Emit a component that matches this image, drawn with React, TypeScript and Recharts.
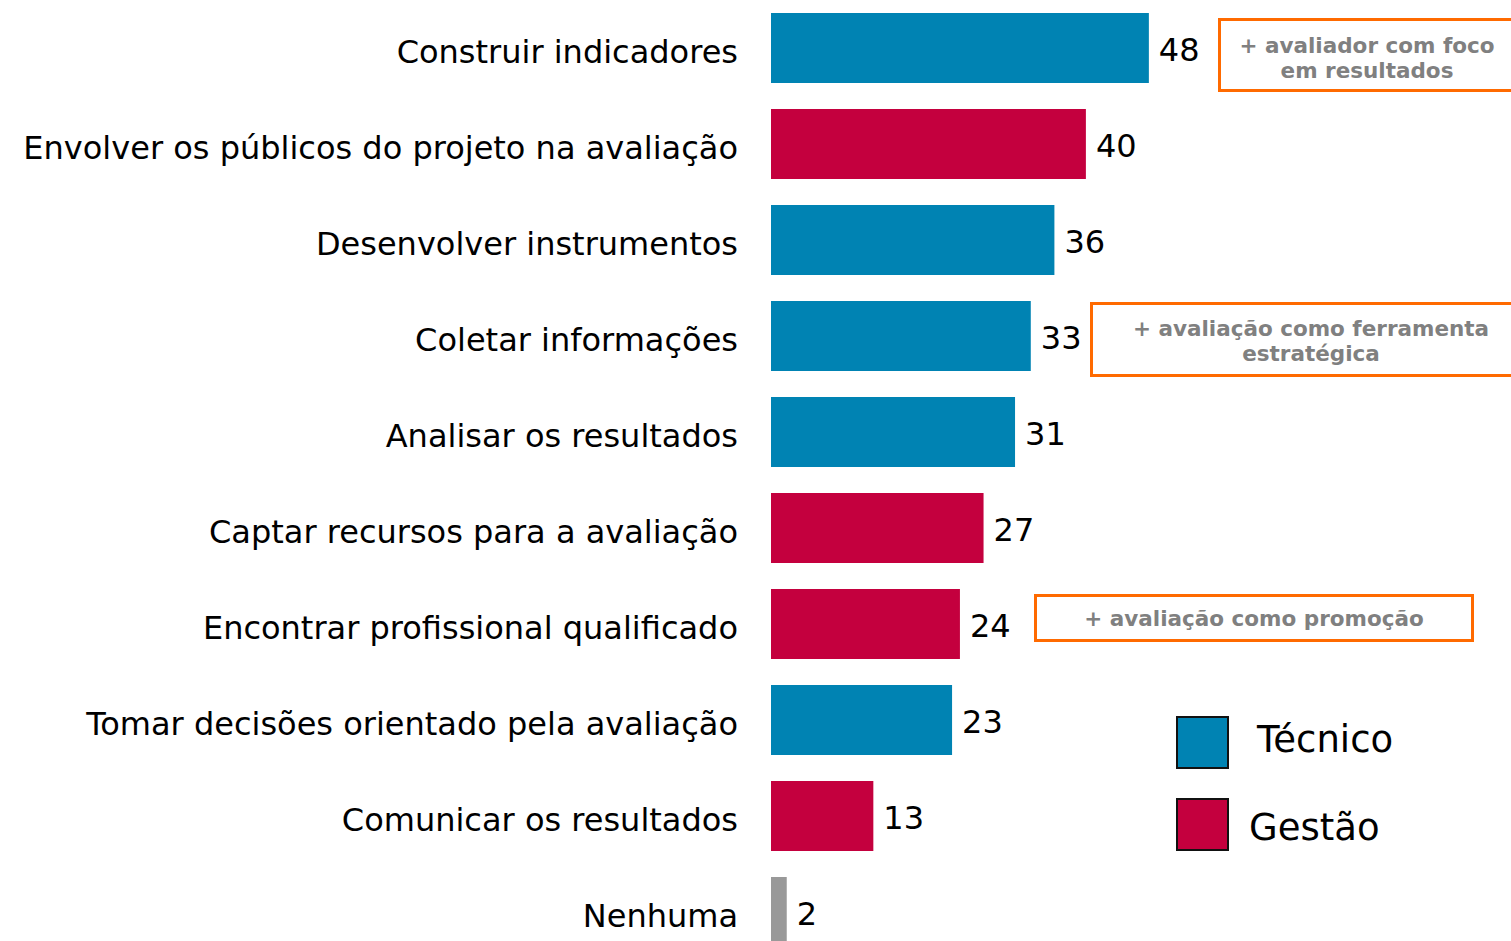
import React from 'react';
import { BarChart, Bar, XAxis, YAxis, Cell, LabelList } from 'recharts';

const categories = [
  'Construir indicadores',
  'Envolver os públicos do projeto na avaliação',
  'Desenvolver instrumentos',
  'Coletar informações',
  'Analisar os resultados',
  'Captar recursos para a avaliação',
  'Encontrar profissional qualificado',
  'Tomar decisões orientado pela avaliação',
  'Comunicar os resultados',
  'Nenhuma',
];
const values = [48, 40, 36, 33, 31, 27, 24, 23, 13, 2];
const groups = ['Técnico', 'Gestão', 'Técnico', 'Técnico', 'Técnico', 'Gestão', 'Gestão', 'Técnico', 'Gestão', 'Nenhuma'];
const legendItems = ['Técnico', 'Gestão'];
const notes = [
  ['+ avaliador com foco', 'em resultados'],
  ['+ avaliação como ferramenta', 'estratégica'],
  ['+ avaliação como promoção'],
];

const colorOf: Record<string, string> = {
  'Técnico': '#0083B3',
  'Gestão': '#C4003E',
  'Nenhuma': '#999999',
};

const data = categories.map((c, i) => ({ name: c, value: values[i], group: groups[i] }));

const FONT = '"DejaVu Sans", Verdana, sans-serif';

const Tick = (props: any) => {
  const { y, payload } = props;
  return (
    <text x={738} y={y + 4} textAnchor="end" dominantBaseline="central" fontFamily={FONT} fontSize={32} fill="#000">
      {payload.value}
    </text>
  );
};

const ValueLabel = (props: any) => {
  const { x, y, width, height, value } = props;
  return (
    <text x={x + width + 10} y={y + height / 2 + 2} dominantBaseline="central" fontFamily={FONT} fontSize={32} fill="#000">
      {value}
    </text>
  );
};

const noteBoxes = [
  { left: 1218, top: 18, width: 298, height: 74, pad: 5 },
  { left: 1090, top: 302, width: 442, height: 75, pad: 3 },
  { left: 1034, top: 594, width: 440, height: 48, pad: 1 },
];

export default function App() {
  return (
    <div style={{ position: 'absolute', left: 0, top: 0, width: 1511, height: 941, overflow: 'hidden', background: '#fff' }}>
      <BarChart width={1511} height={960} data={data} layout="vertical" margin={{ top: 0, right: 0, bottom: 0, left: 0 }}>
        <XAxis type="number" domain={[0, 94]} hide />
        <YAxis type="category" dataKey="name" width={771} axisLine={false} tickLine={false} tick={<Tick />} interval={0} />
        <Bar dataKey="value" barSize={70} isAnimationActive={false}>
          {data.map((d, i) => (
            <Cell key={i} fill={colorOf[d.group]} />
          ))}
          <LabelList dataKey="value" content={<ValueLabel />} />
        </Bar>
      </BarChart>
      {noteBoxes.map((b, i) => (
        <div
          key={i}
          style={{
            position: 'absolute',
            left: b.left,
            top: b.top,
            width: b.width,
            height: b.height,
            boxSizing: 'border-box',
            border: '3px solid #FF6A00',
            paddingTop: b.pad,
            display: 'flex',
            flexDirection: 'column',
            justifyContent: 'center',
            alignItems: 'center',
            fontFamily: FONT,
            fontWeight: 'bold',
            fontSize: 21.5,
            lineHeight: '25px',
            color: '#808080',
            background: '#fff',
          }}
        >
          {notes[i].map((t, j) => (
            <div key={j}>{t}</div>
          ))}
        </div>
      ))}
      {legendItems.map((g, i) => (
        <React.Fragment key={g}>
          <div
            style={{
              position: 'absolute',
              left: 1176,
              top: 716 + i * 82,
              width: 53,
              height: 53,
              boxSizing: 'border-box',
              border: '2px solid #111',
              background: colorOf[g],
            }}
          />
          <div
            style={{
              position: 'absolute',
              left: i === 0 ? 1257 : 1249,
              top: i === 0 ? 713 : 801,
              height: 53,
              lineHeight: '53px',
              fontFamily: FONT,
              fontSize: 37,
              color: '#000',
            }}
          >
            {g}
          </div>
        </React.Fragment>
      ))}
    </div>
  );
}
